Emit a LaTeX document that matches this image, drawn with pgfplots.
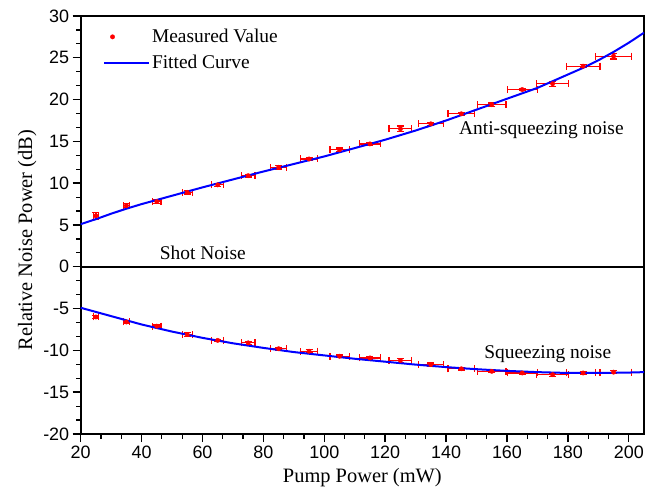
\documentclass[border=0pt]{standalone}
\usepackage{fontspec}
\setmainfont{Liberation Serif}
\setsansfont{Liberation Sans}
\usepackage{pgfplots}
\pgfplotsset{compat=1.18}
\usepackage{pgfplotstable}

\pgfplotsset{longline legend/.style={legend image code/.code={\draw[blue, line width=2bp] (0bp,0bp) -- (45bp,0bp);}}}

% measured values: x, y, x error, y error
\pgfplotstableread{
x   y     ex    ey
25  6.1   0.75  0.40
35  7.3   1.05  0.25
45  7.8   1.35  0.20
55  8.9   1.65  0.20
65  9.8   1.95  0.20
75  10.9  2.25  0.15
85  11.9  2.55  0.20
95  12.9  2.85  0.20
105 14.0  3.15  0.20
115 14.7  3.45  0.20
125 16.5  3.75  0.35
135 17.1  4.05  0.20
145 18.3  4.35  0.20
155 19.4  4.65  0.20
165 21.2  4.95  0.15
175 21.9  5.25  0.30
185 24.0  5.55  0.20
195 25.2  5.85  0.35
}\antisq

\pgfplotstableread{
x   y      ex    ey
25  -6.0   0.75  0.20
35  -6.6   1.05  0.20
45  -7.1   1.35  0.15
55  -8.1   1.65  0.20
65  -8.8   1.95  0.15
75  -9.1   2.25  0.15
85  -9.8   2.55  0.15
95  -10.1  2.85  0.20
105 -10.7  3.15  0.15
115 -10.9  3.45  0.20
125 -11.2  3.75  0.20
135 -11.7  4.05  0.20
145 -12.2  4.35  0.15
155 -12.5  4.65  0.15
165 -12.7  4.95  0.15
175 -12.9  5.25  0.20
185 -12.7  5.55  0.20
195 -12.6  5.85  0.20
}\sq

% fitted curves
\pgfplotstableread{
x   y
20  5.1
25  5.7
30  6.35
35  6.95
40  7.5
45  8.0
50  8.5
60  9.5
70  10.45
80  11.4
90  12.3
100 13.2
110 14.2
120 15.2
130 16.3
140 17.5
150 18.8
160 20.1
170 21.4
180 23.0
185 23.8
190 24.7
195 25.7
200 26.8
205 28.0
}\antifit

\pgfplotstableread{
x   y
20  -4.9
30  -5.9
40  -6.9
50  -7.75
60  -8.5
70  -9.15
80  -9.7
90  -10.2
100 -10.6
110 -11.0
120 -11.35
130 -11.7
140 -12.0
150 -12.25
160 -12.45
170 -12.6
180 -12.7
190 -12.7
200 -12.65
205 -12.6
}\sqfit

\begin{document}
\begin{tikzpicture}
\begin{axis}[
  scale only axis, width=563.3bp, height=418bp,
  xmin=20, xmax=205, ymin=-20, ymax=30,
  xtick={20,40,...,200}, ytick={-20,-15,...,30},
  minor x tick num=2, minor y tick num=2,
  tick align=outside, xtick pos=left, ytick pos=left,
  major tick length=8bp, minor tick length=4.5bp,
  every major tick/.append style={draw=black, line width=1.4bp},
  every minor tick/.append style={draw=black, line width=1.2bp},
  axis line style={line width=1.8bp},
  /pgf/number format/assume math mode=true,
  ticklabel style={font=\fontsize{18}{20}\selectfont\sffamily},
  xlabel={Pump Power (mW)}, ylabel={Relative Noise Power (dB)},
  label style={font=\fontsize{20.5}{24}\selectfont},
  xlabel style={yshift=-3bp},
  ylabel style={at={(ticklabel cs:0.464)}},
  legend style={at={(0.034,0.978)}, anchor=north west, draw=none, fill=none,
    font=\fontsize{19.5}{22}\selectfont, row sep=7bp},
  legend cell align=left,
  error bars/error bar style={red, line width=1.2bp},
  error bars/error mark options={rotate=90, red, line width=1.2bp, mark size=3.5bp},
]
\addplot[only marks, mark=*, mark size=2.2bp, red,
  error bars/.cd, x dir=both, x explicit, y dir=both, y explicit]
  table[x=x, y=y, x error=ex, y error=ey]{\antisq};
\addlegendentry{Measured Value}
\addplot[blue, line width=2bp, longline legend]
  table[x=x, y=y]{\antifit};
\addlegendentry{Fitted Curve}
\addplot[only marks, mark=*, mark size=2.2bp, red, forget plot,
  error bars/.cd, x dir=both, x explicit, y dir=both, y explicit]
  table[x=x, y=y, x error=ex, y error=ey]{\sq};
\addplot[blue, line width=2bp, forget plot] table[x=x, y=y]{\sqfit};
\addplot[black, line width=1.5bp, forget plot] coordinates {(20,0) (205,0)};
\node[font=\fontsize{19.5}{22}\selectfont] at (axis cs:171.3,16.3) {Anti-squeezing noise};
\node[font=\fontsize{19.5}{22}\selectfont] at (axis cs:60.1,1.65) {Shot Noise};
\node[font=\fontsize{19.5}{22}\selectfont] at (axis cs:173.4,-10.5) {Squeezing noise};
\end{axis}
\pgfresetboundingbox
\path (-80.7bp,-61bp) rectangle (589.3bp,434bp);
\end{tikzpicture}
\end{document}
